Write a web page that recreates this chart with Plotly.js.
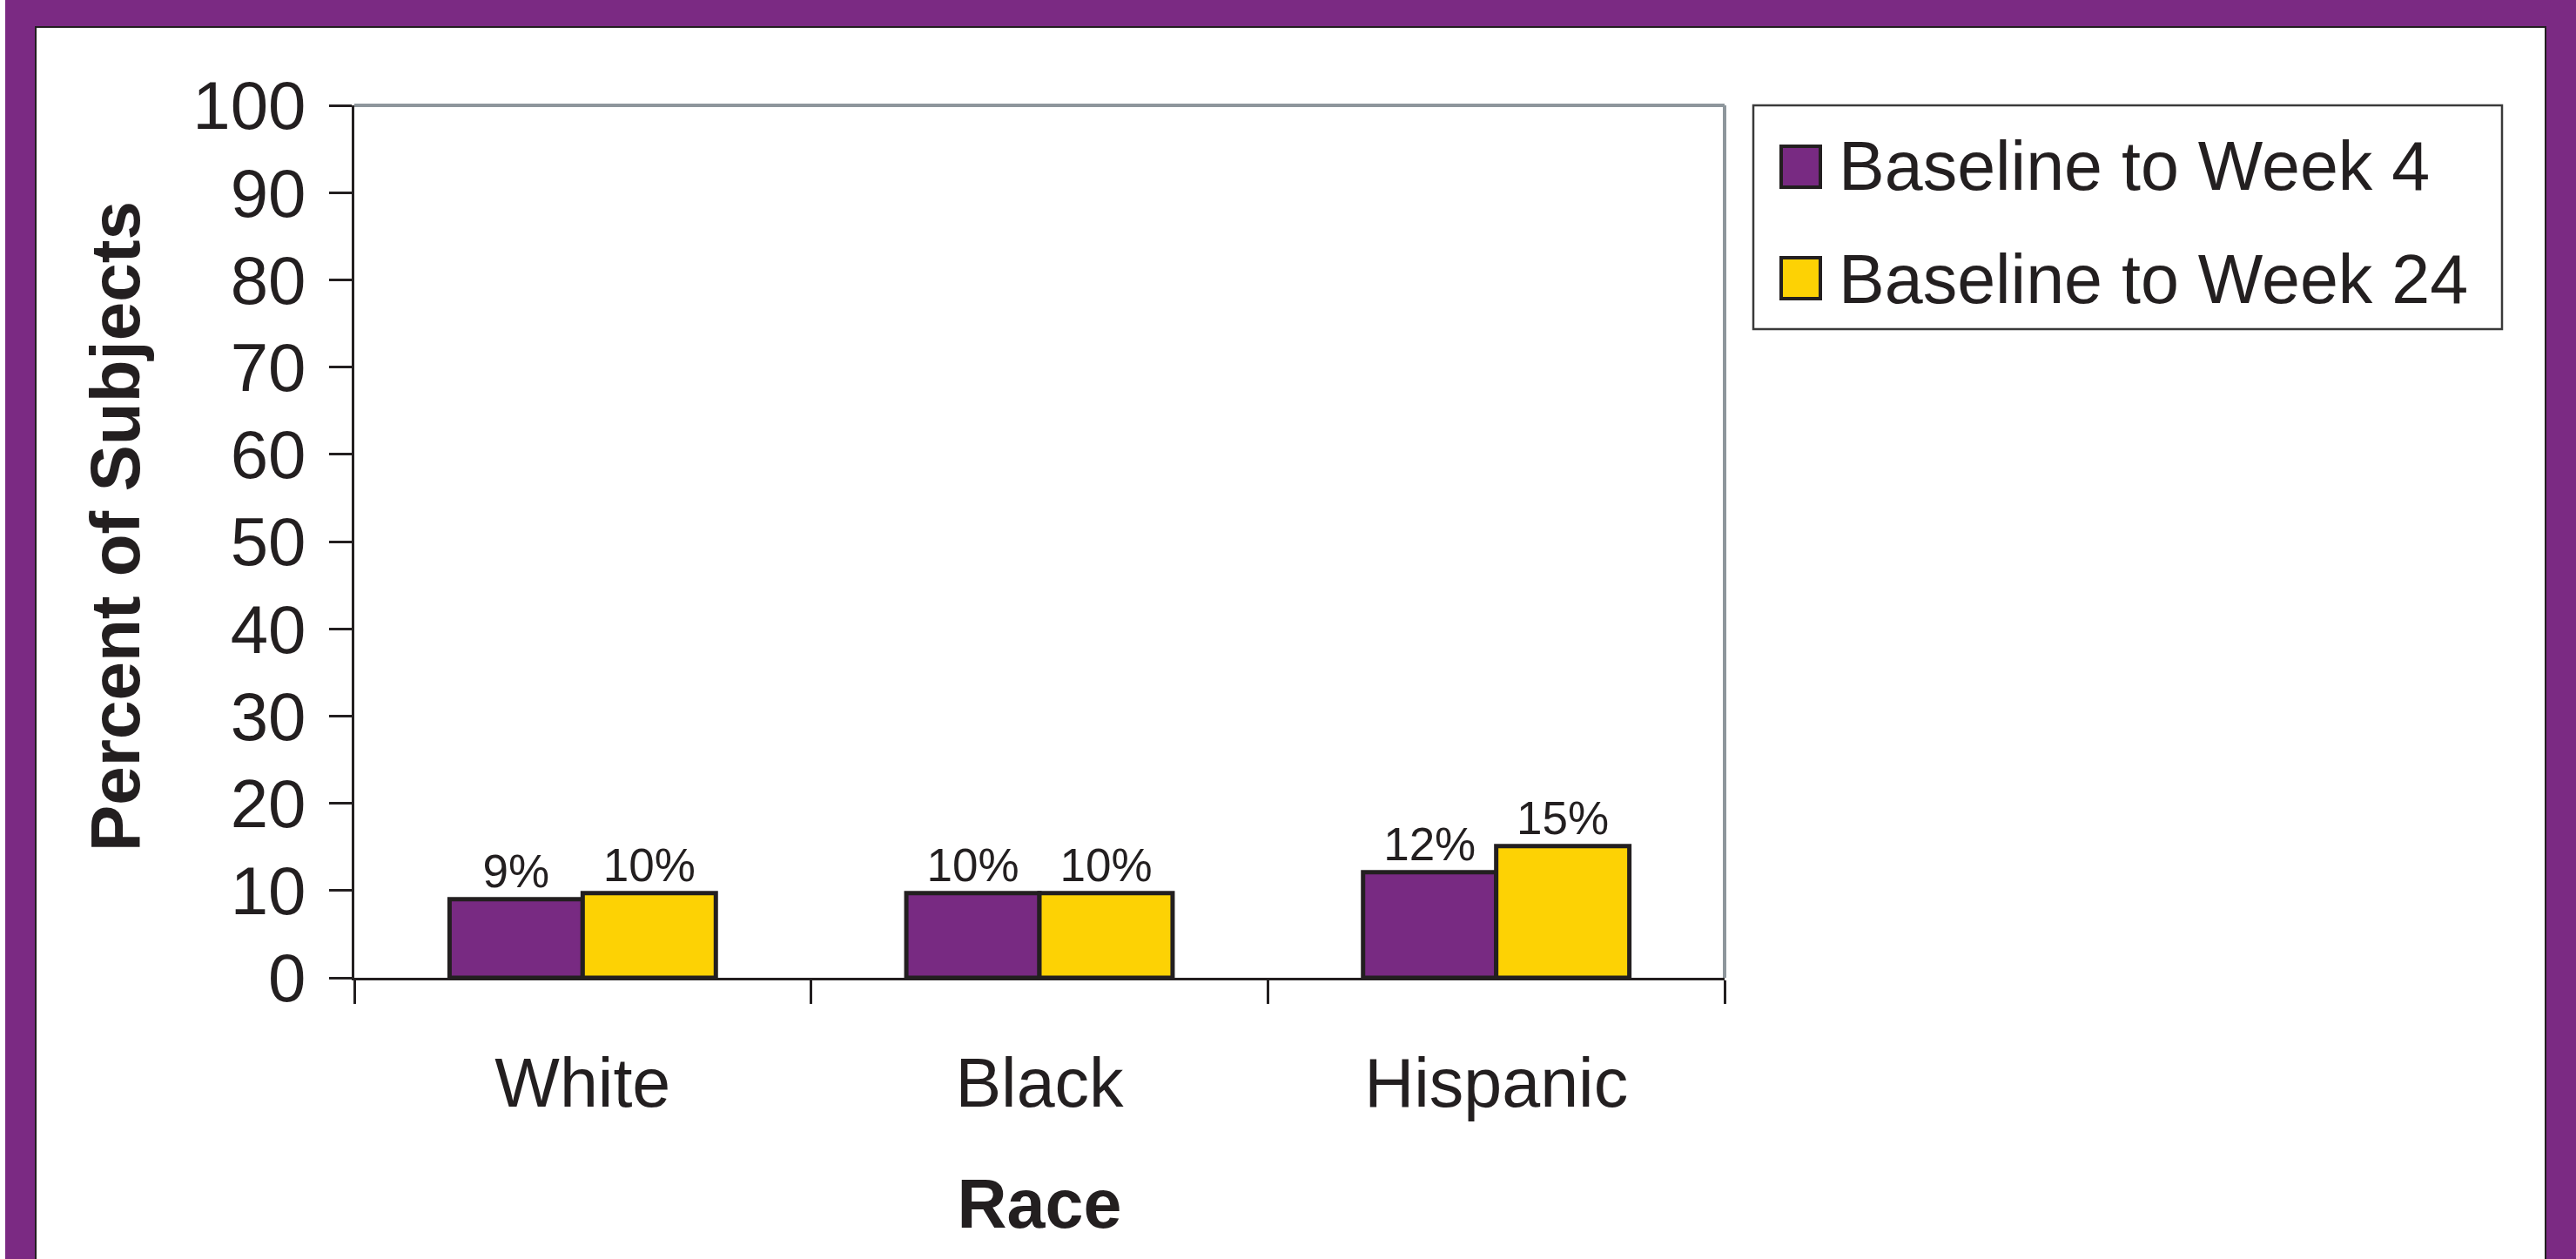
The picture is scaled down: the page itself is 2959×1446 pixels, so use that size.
<!DOCTYPE html>
<html>
<head>
<meta charset="utf-8">
<script src="https://cdn.plot.ly/plotly-3.0.1.min.js"></script>
<style>
  html, body { margin:0; padding:0; background:#ffffff; width:2959px; height:1446px; overflow:hidden; }
  #frame { position:absolute; left:6px; top:0; width:2953px; height:1446px; background:#7b2a83; }
  #box { position:absolute; left:40px; top:30px; width:2885px; height:1416px; box-sizing:border-box;
         border:2px solid #231f20; border-bottom:none; background:#ffffff; }
  #chart { position:absolute; left:0; top:0; width:2881px; height:1414px; }
</style>
</head>
<body>
<div id="frame"></div>
<div id="box"><div id="chart"></div></div>
<script>
// ---- data ----
const categories = ["White", "Black", "Hispanic"];
const seriesNames = ["Baseline to Week 4", "Baseline to Week 24"];
const week4Values = [9.0, 9.7, 12.1];
const week24Values = [9.7, 9.7, 15.1];
const week4Labels = ["9%", "10%", "12%"];
const week24Labels = ["10%", "10%", "15%"];
const yTickValues = [0, 10, 20, 30, 40, 50, 60, 70, 80, 90, 100];
const xTitle = "Race";
const yTitle = "Percent of Subjects";

// ---- style ----
const FONT = "Liberation Sans, Arial, Helvetica, sans-serif";
const INK = "#231f20";
const PURPLE = "#782a82";
const YELLOW = "#fdd204";
const GRAY = "#8e969c";

const W = 2881, H = 1414;
const M = { l: 365, r: 942, t: 89, b: 323 };
const plotW = W - M.l - M.r, plotH = H - M.t - M.b;
const OX = 42, OY = 32; // chart origin in page coords
const px = x => (x - OX - M.l) / plotW;
const py = y => 1 - (y - OY - M.t) / plotH;

const barLine = { color: INK, width: 5 };

const traces = [
  { type: "bar", name: seriesNames[0], x: categories, y: week4Values,
    text: week4Labels, textposition: "outside", cliponaxis: false, constraintext: "none",
    textfont: { family: FONT, size: 53, color: INK },
    marker: { color: PURPLE, line: barLine }, hoverinfo: "x+y" },
  { type: "bar", name: seriesNames[1], x: categories, y: week24Values,
    text: week24Labels, textposition: "outside", cliponaxis: false, constraintext: "none",
    textfont: { family: FONT, size: 53, color: INK },
    marker: { color: YELLOW, line: barLine }, hoverinfo: "x+y" }
];

// manual legend (large swatches like the original)
const legendBox = { x0: 2014, x1: 2874, y0: 121, y1: 378 };
const swatches = [
  { x0: 2046, x1: 2091, y0: 168, y1: 215, color: PURPLE, textY: 191 },
  { x0: 2046, x1: 2091, y0: 296, y1: 343, color: YELLOW, textY: 320 }
];
const legendTextX = 2110;

const shapes = [
  // plot frame top & right (gray)
  { type: "line", xref: "paper", yref: "paper", x0: 0, x1: 1, y0: 1, y1: 1, line: { color: GRAY, width: 4 } },
  { type: "line", xref: "paper", yref: "paper", x0: 1, x1: 1, y0: 0, y1: 1, line: { color: GRAY, width: 4 } },
  // legend box
  { type: "rect", xref: "paper", yref: "paper",
    x0: px(legendBox.x0), x1: px(legendBox.x1), y0: py(legendBox.y0), y1: py(legendBox.y1),
    line: { color: "#3a3a3a", width: 2.5 }, fillcolor: "rgba(0,0,0,0)" }
];
const annotations = [
  // y axis title
  { xref: "paper", yref: "paper", x: px(132), y: py(605), textangle: -90,
    xanchor: "center", yanchor: "middle", showarrow: false, text: "<b>" + yTitle + "</b>",
    font: { family: FONT, size: 80, color: INK } }
];
swatches.forEach((s, i) => {
  shapes.push({ type: "rect", xref: "paper", yref: "paper",
    x0: px(s.x0), x1: px(s.x1), y0: py(s.y0), y1: py(s.y1),
    line: { color: INK, width: 4 }, fillcolor: s.color });
  annotations.push({ xref: "paper", yref: "paper", x: px(legendTextX), y: py(s.textY),
    xanchor: "left", yanchor: "middle", showarrow: false, text: seriesNames[i],
    font: { family: FONT, size: 79, color: INK } });
});

const layout = {
  width: W, height: H,
  margin: M,
  paper_bgcolor: "#ffffff", plot_bgcolor: "#ffffff",
  barmode: "group", bargap: 0.417, bargroupgap: 0,
  showlegend: false,
  font: { family: FONT, color: INK },
  xaxis: {
    type: "category",
    showline: true, linecolor: INK, linewidth: 3,
    ticks: "outside", tickson: "boundaries", ticklen: 27, tickwidth: 3, tickcolor: INK,
    ticklabelstandoff: 50,
    tickfont: { family: FONT, size: 79, color: INK },
    showgrid: false, zeroline: false,
    title: { text: "<b>" + xTitle + "</b>", font: { family: FONT, size: 79, color: INK }, standoff: 68 }
  },
  yaxis: {
    range: [0, 100], tickvals: yTickValues,
    showline: true, linecolor: INK, linewidth: 3,
    ticks: "outside", ticklen: 26, tickwidth: 3, tickcolor: INK,
    ticklabelstandoff: 11,
    tickfont: { family: FONT, size: 78, color: INK },
    showgrid: false, zeroline: false
  },
  shapes: shapes,
  annotations: annotations
};

Plotly.newPlot("chart", traces, layout, { displayModeBar: false, staticPlot: true });
</script>
</body>
</html>
